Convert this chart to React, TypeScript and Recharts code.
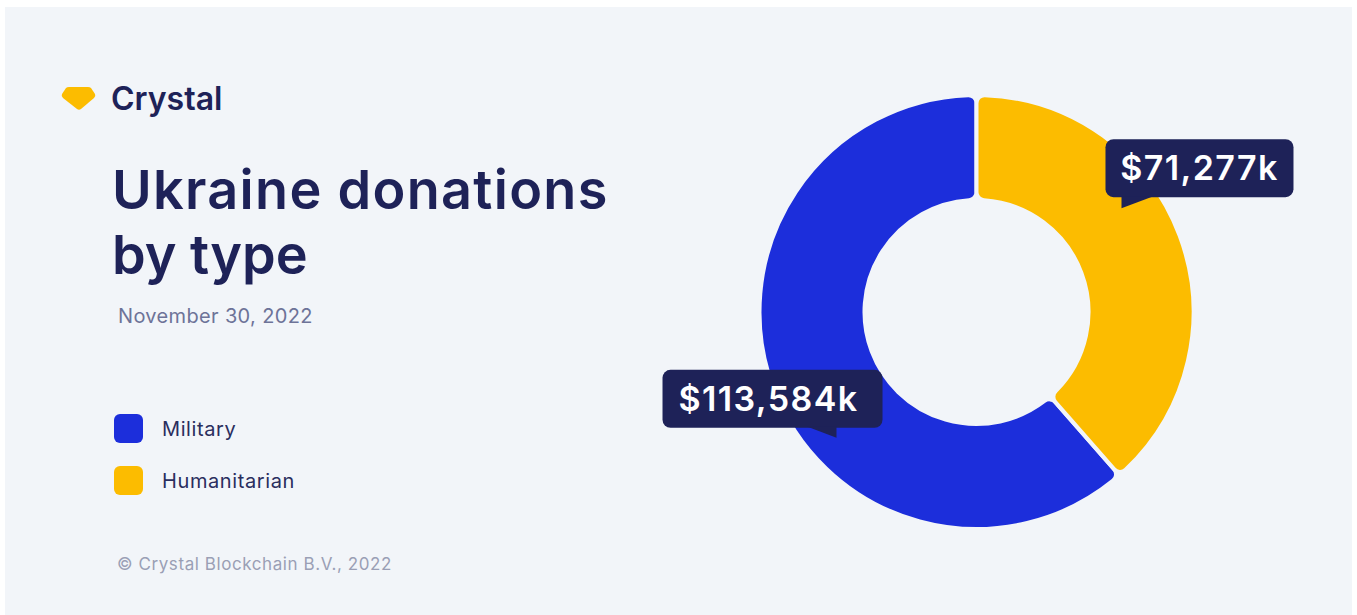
import { PieChart, Pie, Cell, Legend } from 'recharts';

const categories = ['Military', 'Humanitarian'];
const donations = [113584, 71277];
const sliceColors = ['#1c2edb', '#fcbc00'];

const NAVY = '#1e2258';
const PANEL = '#f2f5f9';
const FONT = 'Inter, "Noto Sans", sans-serif';

const chartData = categories.map((name, i) => ({ name, value: donations[i] }));
const total = donations.reduce((a, b) => a + b, 0);

// Humanitarian starts at 12 o'clock and runs clockwise, so Military starts where it ends
const startAngle = 90 - (donations[1] / total) * 360;

// Callout box relative to the slice midpoint: tip is the pointer end, tail is where it leaves the box
const callouts = [
  { boxW: 220, boxH: 58, tipX: 14, tipY: 68, boxLeft: -174, boxGap: 10, tailFrom: 145, tailTo: 174, textDx: -4 },
  { boxW: 188, boxH: 58, tipX: -9, tipY: -46, boxLeft: -16, boxGap: 11, tailFrom: 16, tailTo: 48, textDx: 0 },
];

function renderCallout(props: any) {
  const { cx, cy, midAngle, innerRadius, outerRadius, value, index } = props;
  const c = callouts[index];
  const r = (innerRadius + outerRadius) / 2;
  const rad = (midAngle * Math.PI) / 180;
  const tipX = cx + r * Math.cos(rad) + c.tipX;
  const tipY = cy - r * Math.sin(rad) + c.tipY;
  const boxX = tipX + c.boxLeft;
  const boxY = tipY - c.boxGap - c.boxH;
  const boxBottom = boxY + c.boxH;
  return (
    <g key={`callout-${index}`}>
      <rect x={boxX} y={boxY} width={c.boxW} height={c.boxH} rx={8} fill={NAVY} />
      <path
        d={`M${boxX + c.tailFrom},${boxBottom - 1} L${boxX + c.tailTo},${boxBottom - 1} L${tipX},${tipY} Z`}
        fill={NAVY}
      />
      <text
        x={boxX + c.boxW / 2 + c.textDx}
        y={boxY + c.boxH / 2 + 12}
        textAnchor="middle"
        fill="#ffffff"
        fontFamily={FONT}
        fontSize={34}
        fontWeight={600}
        letterSpacing={1.4}
      >
        {`$${value.toLocaleString('en-US')}k`}
      </text>
    </g>
  );
}

function renderLegend(props: any) {
  return (
    <div>
      {props.payload.map((item: any) => (
        <div key={item.value} style={{ display: 'flex', alignItems: 'center', height: 29, marginBottom: 23 }}>
          <span style={{ width: 29, height: 29, borderRadius: 6, background: item.color }} />
          <span style={{ marginLeft: 19, fontSize: 20, letterSpacing: 0.6, color: '#2a2e5e', fontFamily: FONT }}>
            {item.value}
          </span>
        </div>
      ))}
    </div>
  );
}

const textStyle = { position: 'absolute', margin: 0, fontFamily: FONT, whiteSpace: 'nowrap' } as const;
const titleStyle = { ...textStyle, left: 112, fontSize: 54, lineHeight: '65px', fontWeight: 600, color: NAVY };

export default function App() {
  return (
    <div style={{ position: 'absolute', left: 0, top: 0, width: 1357, height: 615, overflow: 'hidden', background: '#fff' }}>
      <div style={{ position: 'absolute', left: 5, top: 7, width: 1347, height: 608, background: PANEL }} />

      <svg style={{ position: 'absolute', left: 61, top: 86 }} width={35} height={26}>
        <path d="M8,1 H27 Q29,1 30,2 L34,8 Q35,10 33,12 L20,23 Q18,24.5 16,23 L2,12 Q0,10 1,8 L5,2 Q6,1 8,1 Z" fill="#fcbc00" />
      </svg>
      <div style={{ ...textStyle, left: 111, top: 80, fontSize: 32, lineHeight: '38px', fontWeight: 600, color: NAVY }}>Crystal</div>

      <div style={{ ...titleStyle, top: 157, letterSpacing: 1.3 }}>Ukraine donations</div>
      <div style={{ ...titleStyle, top: 222 }}>by type</div>
      <div style={{ ...textStyle, left: 118, top: 304, fontSize: 20, lineHeight: '24px', letterSpacing: 0.35, color: '#6d7398' }}>November 30, 2022</div>
      <div style={{ ...textStyle, left: 117, top: 554, fontSize: 17, lineHeight: '20px', letterSpacing: 0.58, color: '#9a9fb5' }}>© Crystal Blockchain B.V., 2022</div>

      <div style={{ position: 'absolute', left: 0, top: 0 }}>
        <PieChart width={1357} height={615} margin={{ top: 0, right: 0, bottom: 0, left: 0 }}>
          <Legend
            layout="vertical"
            align="center"
            verticalAlign="middle"
            itemSorter={null}
            content={renderLegend}
            wrapperStyle={{ left: 114, top: 414, width: 300 }}
          />
          <Pie
            data={chartData}
            dataKey="value"
            nameKey="name"
            cx={976.5}
            cy={312}
            innerRadius={112}
            outerRadius={217}
            startAngle={startAngle}
            endAngle={startAngle - 360}
            cornerRadius={8}
            stroke={PANEL}
            strokeWidth={4}
            label={renderCallout}
            labelLine={false}
            isAnimationActive={false}
          >
            {chartData.map((d, i) => (
              <Cell key={d.name} fill={sliceColors[i]} />
            ))}
          </Pie>
        </PieChart>
      </div>
    </div>
  );
}
